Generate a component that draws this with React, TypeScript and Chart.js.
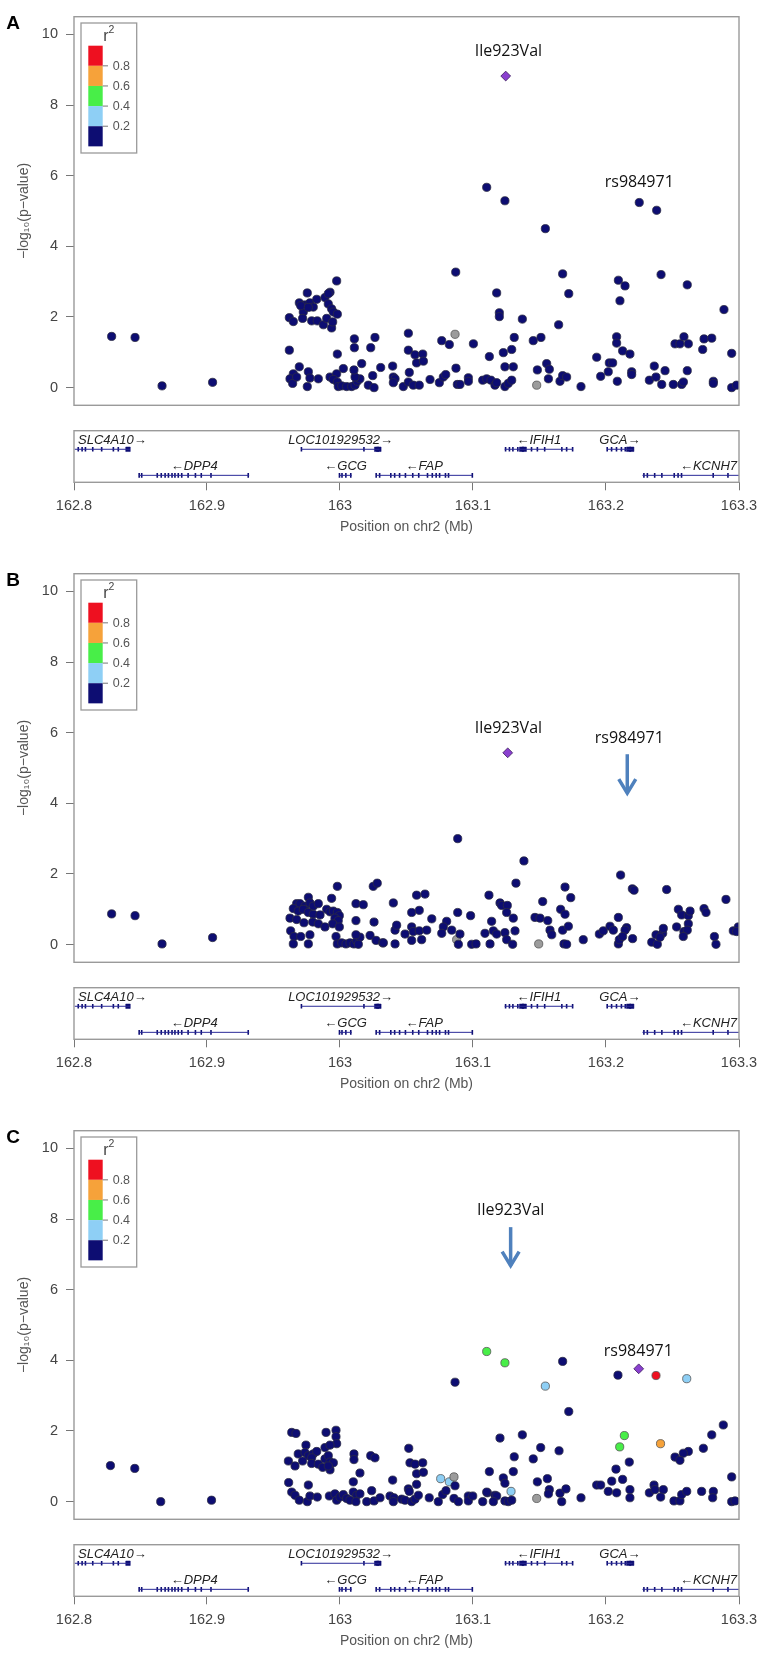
import React, { useEffect, useRef } from "react";
import { Chart, registerables } from "chart.js";
Chart.register(...registerables);

type Pt = [number, number];

// ---------------- axes / text ----------------
const X_TICKS = [162.8, 162.9, 163.0, 163.1, 163.2, 163.3];
const X_TICK_LABELS = ["162.8", "162.9", "163", "163.1", "163.2", "163.3"];
const Y_TICKS = [0, 2, 4, 6, 8, 10];
const R2_BREAKS = ["0.8", "0.6", "0.4", "0.2"];
const X_TITLE = "Position on chr2 (Mb)";
const Y_TITLE = "\u2212log\u2081\u2080(p\u2212value)";
const PANEL_LETTERS = ["A", "B", "C"];

// ---------------- panel A ----------------
const A_NAVY: Pt[] = [
  [162.8283, 1.45], [162.8459, 1.42], [162.8662, 0.05], [162.9042, 0.15],
  [162.9975, 3.02], [162.9754, 2.68], [162.9925, 2.7], [162.9694, 2.4], [162.9737, 2.34], [162.9774, 2.4],
  [162.9799, 2.28], [162.9825, 2.5], [162.9887, 2.55], [162.9912, 2.37], [162.9937, 2.23], [162.995, 2.14],
  [162.998, 2.08], [162.9724, 2.14], [162.9619, 1.98], [162.9649, 1.87], [162.9719, 1.96], [162.9787, 1.89],
  [162.9829, 1.89], [162.9875, 1.78], [162.99, 1.96], [162.9937, 1.69], [162.9945, 1.86], [162.9705, 2.32],
  [162.9762, 2.27], [162.9912, 2.66],
  [162.9619, 1.06], [162.998, 0.95], [163.0108, 1.38], [163.0108, 1.13], [163.0263, 1.42], [163.0231, 1.13],
  [162.9694, 0.59], [162.9762, 0.45], [162.9649, 0.39], [162.9624, 0.25], [162.9644, 0.12], [162.9674, 0.3],
  [162.9774, 0.27], [162.9837, 0.25], [162.9754, 0.03], [162.9925, 0.3], [162.9975, 0.39], [162.995, 0.23],
  [162.998, 0.16], [162.9987, 0.03], [163.0013, 0.05], [163.005, 0.03], [163.0088, 0.03], [163.0113, 0.07],
  [163.013, 0.18], [163.015, 0.25], [163.0113, 0.3], [163.0105, 0.5], [163.0163, 0.68], [163.0025, 0.54],
  [163.0213, 0.07], [163.0256, 0.0], [163.0246, 0.34], [163.0306, 0.57], [163.0396, 0.61], [163.0401, 0.3],
  [163.0414, 0.25], [163.0401, 0.14], [163.0476, 0.03], [163.0514, 0.16], [163.0521, 0.43], [163.0514, 1.54],
  [163.0514, 1.06],
  [163.0564, 0.93], [163.0576, 0.7], [163.0622, 0.95], [163.0627, 0.75], [163.0551, 0.07], [163.0596, 0.07],
  [163.0677, 0.23], [163.0747, 0.14], [163.0777, 0.3], [163.0795, 0.37], [163.0765, 1.33], [163.0822, 1.22],
  [163.087, 3.27], [163.0872, 0.55], [163.0882, 0.09], [163.0902, 0.09], [163.0965, 0.28], [163.0965, 0.18],
  [163.1003, 1.24], [163.1073, 0.21], [163.1103, 0.25], [163.1135, 0.21], [163.1165, 0.07], [163.1178, 0.14],
  [163.1123, 0.88], [163.1103, 5.67], [163.124, 5.29], [163.1178, 2.68], [163.1198, 2.12], [163.1198, 2.01],
  [163.1228, 0.99], [163.1291, 1.08], [163.124, 0.59], [163.1303, 0.59], [163.124, 0.03], [163.1265, 0.12],
  [163.1291, 0.21], [163.131, 1.42], [163.1371, 1.94], [163.1453, 1.33], [163.1511, 1.42], [163.1484, 0.5],
  [163.1567, 0.25], [163.1554, 0.68], [163.1574, 0.52], [163.1544, 4.5], [163.1644, 1.78], [163.1674, 3.22],
  [163.172, 2.66], [163.1654, 0.18], [163.1674, 0.34], [163.1704, 0.3], [163.1812, 0.03], [163.193, 0.86],
  [163.196, 0.32], [163.2017, 0.45], [163.2025, 0.7], [163.205, 0.7], [163.208, 1.44], [163.208, 1.26],
  [163.2093, 3.04], [163.2143, 2.88], [163.2105, 2.46], [163.2125, 1.04], [163.218, 0.95], [163.2085, 0.18],
  [163.2193, 0.45], [163.2193, 0.37], [163.225, 5.24], [163.2381, 5.02], [163.2414, 3.2], [163.2326, 0.21],
  [163.2363, 0.61], [163.2376, 0.3], [163.2419, 0.09], [163.2444, 0.48], [163.2506, 0.09], [163.2569, 0.09],
  [163.2582, 0.16], [163.2519, 1.24], [163.2556, 1.24], [163.2586, 1.44], [163.2619, 1.24], [163.2611, 2.91],
  [163.2611, 0.48], [163.2727, 1.08], [163.2737, 1.38], [163.2795, 1.4], [163.2807, 0.18], [163.2807, 0.12],
  [163.2887, 2.21], [163.2945, 0.97], [163.2945, 0.0], [163.2982, 0.07],
];
const A_GREY: Pt[] = [[163.0865, 1.51], [163.1479, 0.07]];
const A_LEAD: Pt[] = [[163.1246, 8.82]];
const A_LABEL_TEXT = ["Ile923Val", "rs984971"];
const A_LABEL_POS: Pt[] = [[163.1266, 9.52], [163.225, 5.81]];
const A_ARROW_X: number[] = [];
const A_ARROW_Y: Pt[] = [];

// ---------------- panel B ----------------
const B_NAVY: Pt[] = [
  [162.8283, 0.87], [162.8459, 0.82], [162.8662, 0.02], [162.9042, 0.2],
  [162.998, 1.65], [163.025, 1.65], [163.028, 1.74], [162.9762, 1.34], [162.9937, 1.31], [163.012, 1.16],
  [163.0175, 1.13], [162.9674, 1.16], [162.9699, 1.16], [162.9737, 1.09], [162.9774, 1.18], [162.9799, 1.09],
  [162.9837, 1.16], [162.9649, 1.02], [162.9686, 0.95], [162.9724, 1.0], [162.9762, 0.91], [162.9799, 0.86],
  [162.985, 0.84], [162.9624, 0.75], [162.9674, 0.71], [162.9729, 0.62], [162.9795, 0.64], [162.99, 1.0],
  [162.9925, 0.93], [162.995, 0.95], [162.998, 0.91], [162.9995, 0.82], [162.9962, 0.75], [162.9987, 0.68],
  [162.9945, 0.59], [162.9995, 0.5], [162.9837, 0.59], [162.9887, 0.5], [163.012, 0.68], [163.0256, 0.64],
  [162.9629, 0.39], [162.9654, 0.23], [162.9649, 0.02], [162.9705, 0.23], [162.9774, 0.28], [162.9762, 0.02],
  [162.997, 0.23], [162.998, 0.02], [163.0013, 0.05], [163.0045, 0.02], [163.0075, 0.05], [163.0105, 0.02],
  [163.0126, 0.11], [163.015, 0.21], [163.012, 0.28], [163.0138, 0.01], [163.0226, 0.26], [163.0271, 0.12],
  [163.0321, 0.05],
  [163.0885, 3.0], [163.1383, 2.37], [163.1323, 1.74], [163.211, 1.97], [163.2198, 1.58], [163.2211, 1.54],
  [163.2456, 1.56], [163.2902, 1.28], [163.1692, 1.63], [163.1735, 1.33], [163.1524, 1.22], [163.112, 1.4],
  [163.1203, 1.18], [163.1216, 1.11], [163.1258, 1.11], [163.1253, 0.91], [163.1303, 0.75], [163.114, 0.66],
  [163.109, 0.32], [163.1153, 0.39], [163.1178, 0.3], [163.124, 0.34], [163.1316, 0.39], [163.1128, 0.02],
  [163.1253, 0.14], [163.1298, 0.01], [163.0576, 1.4], [163.0639, 1.43], [163.0401, 1.18], [163.0539, 0.91],
  [163.0596, 0.97], [163.069, 0.73], [163.0414, 0.41], [163.0426, 0.55], [163.0489, 0.3], [163.0539, 0.5],
  [163.0551, 0.37], [163.0596, 0.39], [163.0652, 0.41], [163.0326, 0.05], [163.0414, 0.02], [163.0539, 0.12],
  [163.0614, 0.14], [163.0802, 0.66], [163.0777, 0.5], [163.084, 0.41], [163.0765, 0.32], [163.0885, 0.91],
  [163.0902, 0.3], [163.089, 0.01], [163.0982, 0.82], [163.099, 0.01], [163.1023, 0.02], [163.1466, 0.77],
  [163.1504, 0.75], [163.1562, 0.68], [163.1579, 0.41], [163.1592, 0.28], [163.1674, 0.41], [163.1717, 0.52],
  [163.1684, 0.02], [163.1704, 0.01], [163.1659, 1.0], [163.1692, 0.86], [163.1829, 0.14], [163.195, 0.3],
  [163.198, 0.39], [163.203, 0.52], [163.2055, 0.41], [163.2093, 0.77], [163.2155, 0.48], [163.2143, 0.41],
  [163.2093, 0.02], [163.21, 0.14], [163.2125, 0.23], [163.22, 0.17], [163.2344, 0.07], [163.2386, 0.01],
  [163.2376, 0.28], [163.2426, 0.32], [163.2431, 0.46], [163.2406, 0.21], [163.2531, 0.5], [163.2544, 1.0],
  [163.2569, 0.84], [163.2586, 0.37], [163.2619, 0.82], [163.2632, 0.95], [163.2619, 0.59], [163.2611, 0.41],
  [163.2581, 0.23], [163.2737, 1.02], [163.2752, 0.91], [163.2815, 0.23], [163.2827, 0.01], [163.2957, 0.39],
  [163.2995, 0.5], [163.2982, 0.37],
];
const B_GREY: Pt[] = [[163.0877, 0.14], [163.1494, 0.02]];
const B_LEAD: Pt[] = [[163.1261, 5.43]];
const B_LABEL_TEXT = ["Ile923Val", "rs984971"];
const B_LABEL_POS: Pt[] = [[163.1266, 6.11], [163.2175, 5.85]];
const B_ARROW_X: number[] = [163.216];
const B_ARROW_Y: Pt[] = [[5.39, 4.26]];

// ---------------- panel C ----------------
const C_NAVY: Pt[] = [
  [162.8274, 1.02], [162.8457, 0.94], [162.8652, 0.0], [162.9034, 0.04],
  [162.9637, 1.96], [162.9669, 1.93], [162.9895, 1.96], [162.997, 2.02], [162.997, 1.84], [162.9975, 1.64],
  [162.9744, 1.6], [162.9887, 1.53], [162.9925, 1.6], [162.9686, 1.35], [162.9737, 1.39], [162.9762, 1.3],
  [162.9799, 1.35], [162.9825, 1.42], [162.9787, 1.24], [162.9612, 1.15], [162.9662, 1.01], [162.9719, 1.15],
  [162.9787, 1.08], [162.9837, 1.06], [162.9887, 1.21], [162.9912, 1.3], [162.9925, 1.12], [162.995, 1.1],
  [162.987, 0.97], [162.9925, 0.9], [162.9912, 1.01], [163.0105, 1.35], [163.0105, 1.19], [163.0231, 1.3],
  [163.0263, 1.24], [163.015, 0.81], [163.01, 0.56], [162.9614, 0.54], [162.9762, 0.47], [162.9637, 0.27],
  [162.9662, 0.18], [162.9694, 0.04], [162.9754, 0.0], [162.9774, 0.16], [162.9829, 0.13], [162.992, 0.16],
  [162.9962, 0.22], [162.9975, 0.04], [163.0, 0.13], [163.0025, 0.2], [163.005, 0.09], [163.0075, 0.04],
  [163.01, 0.27], [163.0126, 0.18], [163.015, 0.22], [163.012, 0.0], [163.0201, 0.0], [163.0238, 0.31],
  [163.0256, 0.02], [163.0301, 0.11], [163.0396, 0.61], [163.0376, 0.16], [163.0406, 0.11], [163.0401, 0.0],
  [163.0464, 0.07], [163.0489, 0.04], [163.0517, 1.51], [163.0526, 1.1], [163.0564, 1.06], [163.0622, 1.1],
  [163.0576, 0.79], [163.0627, 0.83], [163.0576, 0.49], [163.0514, 0.36], [163.0521, 0.29], [163.0539, 0.0],
  [163.0564, 0.07], [163.0589, 0.18], [163.0671, 0.11], [163.0739, 0.0], [163.0772, 0.2], [163.0797, 0.31],
  [163.0865, 0.45], [163.0857, 0.09], [163.089, 0.0], [163.0965, 0.16], [163.0965, 0.02], [163.0998, 0.16],
  [163.1073, 0.0], [163.1108, 0.25], [163.1123, 0.85], [163.1203, 1.8], [163.0865, 3.38],
  [163.209, 3.58], [163.1674, 3.97], [163.172, 2.55], [163.2882, 2.17], [163.2795, 1.89], [163.2732, 1.51],
  [163.2619, 1.42], [163.2581, 1.37], [163.2519, 1.26], [163.2556, 1.17], [163.2175, 1.12], [163.2075, 0.92],
  [163.1371, 1.89], [163.1509, 1.53], [163.1453, 1.21], [163.131, 1.27], [163.1647, 1.44], [163.1303, 0.85],
  [163.1228, 0.67], [163.124, 0.52], [163.1103, 0.27], [163.1165, 0.18], [163.1178, 0.16], [163.1153, 0.0],
  [163.124, 0.02], [163.1265, 0.0], [163.1291, 0.04], [163.1484, 0.56], [163.1559, 0.65], [163.1574, 0.34],
  [163.1567, 0.22], [163.1654, 0.24], [163.1699, 0.36], [163.1667, 0.0], [163.1812, 0.11], [163.193, 0.47],
  [163.196, 0.47], [163.2043, 0.58], [163.2017, 0.29], [163.208, 0.25], [163.2125, 0.63], [163.218, 0.34],
  [163.218, 0.11], [163.2326, 0.25], [163.2361, 0.47], [163.2368, 0.34], [163.2431, 0.34], [163.2411, 0.13],
  [163.2511, 0.02], [163.2556, 0.02], [163.2569, 0.2], [163.2607, 0.29], [163.2719, 0.29], [163.2807, 0.29],
  [163.2802, 0.11], [163.2945, 0.7], [163.2945, 0.0], [163.297, 0.02],
];
const C_GREY: Pt[] = [[163.0857, 0.7], [163.1479, 0.09]];
const C_LIGHTBLUE: Pt[] = [[163.1544, 3.27], [163.2607, 3.48], [163.0757, 0.65], [163.0822, 0.56], [163.1286, 0.29]];
const C_GREEN: Pt[] = [[163.1103, 4.25], [163.124, 3.93], [163.2138, 1.87], [163.2103, 1.55]];
const C_ORANGE: Pt[] = [[163.241, 1.64]];
const C_RED: Pt[] = [[163.2376, 3.57]];
const C_LEAD: Pt[] = [[163.2246, 3.76]];
const C_LABEL_TEXT = ["Ile923Val", "rs984971"];
const C_LABEL_POS: Pt[] = [[163.1283, 8.25], [163.2243, 4.24]];
const C_ARROW_X: number[] = [163.1283];
const C_ARROW_Y: Pt[] = [[7.77, 6.65]];

// ---------------- genes ----------------
const GENE_NAMES = ["SLC4A10", "LOC101929532", "IFIH1", "GCA", "DPP4", "GCG", "FAP", "KCNH7"];
const GENE_STRAND = [1, 1, -1, 1, -1, -1, -1, -1];
const GENE_ROW = [1, 1, 1, 1, 2, 2, 2, 2];
const GENE_START = [162.8005, 162.971, 163.1238, 163.2009, 162.849, 162.9996, 163.0272, 163.2274];
const GENE_END = [162.842, 163.0298, 163.1752, 163.22, 162.9317, 163.0088, 163.0995, 163.69];
const GENE_EXONS: number[][] = [
  [162.8032, 162.8061, 162.8086, 162.8141, 162.8208, 162.8296, 162.8333],
  [162.971, 163.018],
  [163.1245, 163.1274, 163.13, 163.1337, 163.144, 163.1484, 163.1539, 163.1668, 163.1704, 163.1749],
  [163.2009, 163.2042, 163.2079, 163.2116, 163.2145],
  [162.849, 162.8509, 162.8626, 162.8656, 162.8685, 162.871, 162.8737, 162.8759, 162.8784, 162.881, 162.8858, 162.8913, 162.8957, 162.903, 162.931],
  [162.9996, 163.0015, 163.0044, 163.0081],
  [163.0272, 163.0298, 163.0382, 163.0411, 163.0448, 163.0492, 163.0547, 163.0592, 163.0658, 163.0694, 163.0723, 163.0749, 163.0793, 163.0816, 163.0995],
  [163.2285, 163.2311, 163.2366, 163.242, 163.2513, 163.2542, 163.2568, 163.2806, 163.2917],
];
const GENE_BLOCKS: number[][] = [
  [162.8406], [163.0276, 163.0292], [163.1366, 163.1385], [163.2171, 163.2193], [], [], [], [],
];

// ---------------- styling ----------------
const FONT = '"Liberation Sans", Arial, "DejaVu Sans", sans-serif';
const ANNOT_FONT = '"Open Sans", "Noto Sans", sans-serif';
const NAVY = "#0d0d72";
const LIGHTBLUE = "#8ecff5";
const GREEN = "#48ee48";
const ORANGE = "#f6a23a";
const RED = "#ee1020";
const GREY = "#9c9c9c";
const LEAD = "#8a40cf";
const BOX = "#9a9a9a";
const R2_COLORS = [RED, ORANGE, GREEN, LIGHTBLUE, NAVY];
const ARROW_BLUE = "#4f81bd";
const ROW_Y: Record<number, number> = { 1: 2.56, 2: 0.54 };

const PANEL_TOPS = [0, 557, 1114];
const SCATTER_H = 422;
const GENE_TOP = 424;
const GENE_H = 124;
const W = 766;

const PANELS = [
  { navy: A_NAVY, grey: A_GREY, lb: [] as Pt[], green: [] as Pt[], orange: [] as Pt[], red: [] as Pt[], lead: A_LEAD, lt: A_LABEL_TEXT, lp: A_LABEL_POS, ax: A_ARROW_X, ay: A_ARROW_Y },
  { navy: B_NAVY, grey: B_GREY, lb: [] as Pt[], green: [] as Pt[], orange: [] as Pt[], red: [] as Pt[], lead: B_LEAD, lt: B_LABEL_TEXT, lp: B_LABEL_POS, ax: B_ARROW_X, ay: B_ARROW_Y },
  { navy: C_NAVY, grey: C_GREY, lb: C_LIGHTBLUE, green: C_GREEN, orange: C_ORANGE, red: C_RED, lead: C_LEAD, lt: C_LABEL_TEXT, lp: C_LABEL_POS, ax: C_ARROW_X, ay: C_ARROW_Y },
];

function ds(data: Pt[], fill: string, border: string, style: string = "circle", r = 4.1) {
  return {
    data: data.map(([x, y]) => ({ x, y })),
    backgroundColor: fill,
    borderColor: border,
    borderWidth: 0.8,
    pointRadius: r,
    pointHoverRadius: r,
    pointStyle: style,
  };
}

function ScatterPanel({ idx }: { idx: number }) {
  const ref = useRef<HTMLCanvasElement | null>(null);
  useEffect(() => {
    const p = PANELS[idx];
    const letter = PANEL_LETTERS[idx];
    const decor = {
      id: "decor",
      afterDatasetsDraw(chart: any) {
        const { ctx, chartArea: ca, scales } = chart;
        const xs = scales.x, ys = scales.y;
        ctx.save();
        ctx.strokeStyle = BOX;
        ctx.lineWidth = 1.4;
        ctx.strokeRect(ca.left, ca.top, ca.right - ca.left, ca.bottom - ca.top);
        // legend
        const bx = ca.left + 7, by = ca.top + 6.3;
        ctx.lineWidth = 1.3;
        ctx.strokeStyle = BOX;
        ctx.strokeRect(bx, by, 55.7, 130);
        const barX = ca.left + 14.3, barW = 14.4, barTop = ca.top + 29, segH = 20.13;
        R2_COLORS.forEach((c, i) => {
          ctx.fillStyle = c;
          ctx.fillRect(barX, barTop + i * segH, barW, segH);
        });
        ctx.strokeStyle = "#777";
        ctx.lineWidth = 1;
        ctx.fillStyle = "#555";
        ctx.font = "12.5px " + FONT;
        ctx.textAlign = "left";
        ctx.textBaseline = "middle";
        R2_BREAKS.forEach((t, i) => {
          const yy = barTop + (i + 1) * segH;
          ctx.beginPath();
          ctx.moveTo(barX + barW, yy);
          ctx.lineTo(barX + barW + 5.3, yy);
          ctx.stroke();
          ctx.fillText(t, barX + barW + 10, yy + 0.5);
        });
        ctx.fillStyle = "#444";
        ctx.font = "16px " + FONT;
        ctx.textAlign = "center";
        ctx.fillText("r", ca.left + 32, ca.top + 19.5);
        ctx.font = "10.5px " + FONT;
        ctx.fillText("2", ca.left + 37.5, ca.top + 13.5);
        // annotations
        ctx.fillStyle = "#111";
        ctx.font = "16px " + ANNOT_FONT;
        ctx.textAlign = "center";
        ctx.textBaseline = "middle";
        p.lt.forEach((t, i) => {
          ctx.fillText(t, xs.getPixelForValue(p.lp[i][0]), ys.getPixelForValue(p.lp[i][1]));
        });
        ctx.strokeStyle = ARROW_BLUE;
        ctx.lineWidth = 3.5;
        ctx.lineJoin = "miter";
        p.ax.forEach((ax, i) => {
          const px = xs.getPixelForValue(ax);
          const y1 = ys.getPixelForValue(p.ay[i][0]);
          const y2 = ys.getPixelForValue(p.ay[i][1]);
          ctx.beginPath();
          ctx.moveTo(px, y1);
          ctx.lineTo(px, y2 - 1);
          ctx.stroke();
          ctx.beginPath();
          ctx.moveTo(px - 8.5, y2 - 15);
          ctx.lineTo(px, y2 - 1);
          ctx.lineTo(px + 8.5, y2 - 15);
          ctx.stroke();
        });
        ctx.fillStyle = "#000";
        ctx.font = "bold 19px " + FONT;
        ctx.textAlign = "center";
        ctx.fillText(letter, 13, 24);
        ctx.restore();
      },
    };
    const chart = new Chart(ref.current as HTMLCanvasElement, {
      type: "scatter",
      data: {
        datasets: [
          ds(p.navy, NAVY, "#2b2b44"),
          ds(p.grey, GREY, "#555"),
          ds(p.lb, LIGHTBLUE, "#555"),
          ds(p.green, GREEN, "#555"),
          ds(p.orange, ORANGE, "#555"),
          ds(p.red, RED, "#555"),
          ds(p.lead, LEAD, "#3a1a5a", "rectRot", 4.9),
        ] as any,
      },
      options: {
        animation: false,
        responsive: false,
        devicePixelRatio: 1,
        layout: { padding: { left: 0, right: 27, top: 7, bottom: 8 } },
        plugins: { legend: { display: false }, tooltip: { enabled: false } },
        scales: {
          x: { type: "linear", min: 162.8, max: 163.3, display: false },
          y: {
            type: "linear",
            min: -0.5,
            max: 10.5,
            afterFit: (s: any) => { s.width = 74; },
            afterBuildTicks: (s: any) => { s.ticks = Y_TICKS.map((v) => ({ value: v })); },
            ticks: { color: "#444", font: { family: FONT, size: 14.5 }, padding: 8, callback: (v: any) => String(v) },
            grid: { drawOnChartArea: false, drawTicks: true, tickLength: 8, color: "#777" },
            border: { display: false },
            title: { display: true, text: Y_TITLE, color: "#555", font: { family: FONT, size: 14 }, padding: { top: 16, bottom: 0 } },
          },
        },
      } as any,
      plugins: [decor],
    });
    return () => chart.destroy();
  }, [idx]);
  return (
    <canvas
      ref={ref}
      width={W}
      height={SCATTER_H}
      style={{ position: "absolute", left: 0, top: PANEL_TOPS[idx], width: W, height: SCATTER_H }}
    />
  );
}

function GenePanel({ idx }: { idx: number }) {
  const ref = useRef<HTMLCanvasElement | null>(null);
  useEffect(() => {
    const labels = {
      id: "geneLabels",
      afterDatasetsDraw(chart: any) {
        const { ctx, chartArea: ca, scales } = chart;
        const xs = scales.x, ys = scales.y;
        ctx.save();
        ctx.font = "italic 13px " + FONT;
        ctx.fillStyle = "#222";
        ctx.textAlign = "center";
        ctx.textBaseline = "middle";
        GENE_NAMES.forEach((name, i) => {
          const text = GENE_STRAND[i] > 0 ? name + "\u2192" : "\u2190" + name;
          const w = ctx.measureText(text).width;
          let cx = (xs.getPixelForValue(GENE_START[i]) + xs.getPixelForValue(GENE_END[i])) / 2;
          cx = Math.max(ca.left + 4 + w / 2, Math.min(ca.right - 2 - w / 2, cx));
          const cy = ys.getPixelForValue(ROW_Y[GENE_ROW[i]]) - 8.6;
          ctx.fillText(text, cx, cy);
        });
        ctx.strokeStyle = BOX;
        ctx.lineWidth = 1.4;
        ctx.strokeRect(ca.left, ca.top, ca.right - ca.left, ca.bottom - ca.top);
        ctx.restore();
      },
    };
    const bodies = GENE_NAMES.map((_, i) => ({
      data: [
        { x: GENE_START[i], y: ROW_Y[GENE_ROW[i]] },
        { x: GENE_END[i], y: ROW_Y[GENE_ROW[i]] },
      ],
      showLine: true,
      borderColor: "#2a2a98",
      borderWidth: 1,
      pointRadius: 0,
      pointHoverRadius: 0,
    }));
    const exons = {
      data: GENE_EXONS.flatMap((arr, i) => arr.map((x) => ({ x, y: ROW_Y[GENE_ROW[i]] }))),
      pointStyle: "line",
      rotation: 90,
      pointRadius: 2.3,
      pointHoverRadius: 2.3,
      borderColor: NAVY,
      borderWidth: 1.6,
    };
    const blocks = {
      data: GENE_BLOCKS.flatMap((arr, i) => arr.map((x) => ({ x, y: ROW_Y[GENE_ROW[i]] }))),
      pointStyle: "rect",
      pointRadius: 3.2,
      pointHoverRadius: 3.2,
      backgroundColor: NAVY,
      borderColor: NAVY,
      borderWidth: 0.5,
    };
    const chart = new Chart(ref.current as HTMLCanvasElement, {
      type: "scatter",
      data: { datasets: [...bodies, exons, blocks] as any },
      options: {
        animation: false,
        responsive: false,
        devicePixelRatio: 1,
        layout: { padding: { left: 74, right: 27, top: 6.7, bottom: 0 } },
        plugins: { legend: { display: false }, tooltip: { enabled: false } },
        scales: {
          x: {
            type: "linear",
            min: 162.8,
            max: 163.3,
            afterFit: (s: any) => { s.height = 65.7; },
            afterBuildTicks: (s: any) => { s.ticks = X_TICKS.map((v) => ({ value: v })); },
            ticks: {
              color: "#444",
              font: { family: FONT, size: 14.5 },
              padding: 7,
              maxRotation: 0,
              autoSkip: false,
              callback: (_v: any, i: number) => X_TICK_LABELS[i],
            },
            grid: { drawOnChartArea: false, drawTicks: true, tickLength: 8, color: "#777" },
            border: { display: false },
            title: { display: true, text: X_TITLE, color: "#555", font: { family: FONT, size: 14 }, padding: { top: 0, bottom: 12 } },
          },
          y: { type: "linear", min: 0, max: 4, display: false },
        },
      } as any,
      plugins: [labels],
    });
    return () => chart.destroy();
  }, [idx]);
  return (
    <canvas
      ref={ref}
      width={W}
      height={GENE_H}
      style={{ position: "absolute", left: 0, top: PANEL_TOPS[idx] + GENE_TOP, width: W, height: GENE_H }}
    />
  );
}

export default function App() {
  return (
    <div style={{ position: "absolute", left: 0, top: 0, width: W, height: 1657, background: "#fff" }}>
      {[0, 1, 2].map((i) => (
        <React.Fragment key={i}>
          <ScatterPanel idx={i} />
          <GenePanel idx={i} />
        </React.Fragment>
      ))}
    </div>
  );
}
